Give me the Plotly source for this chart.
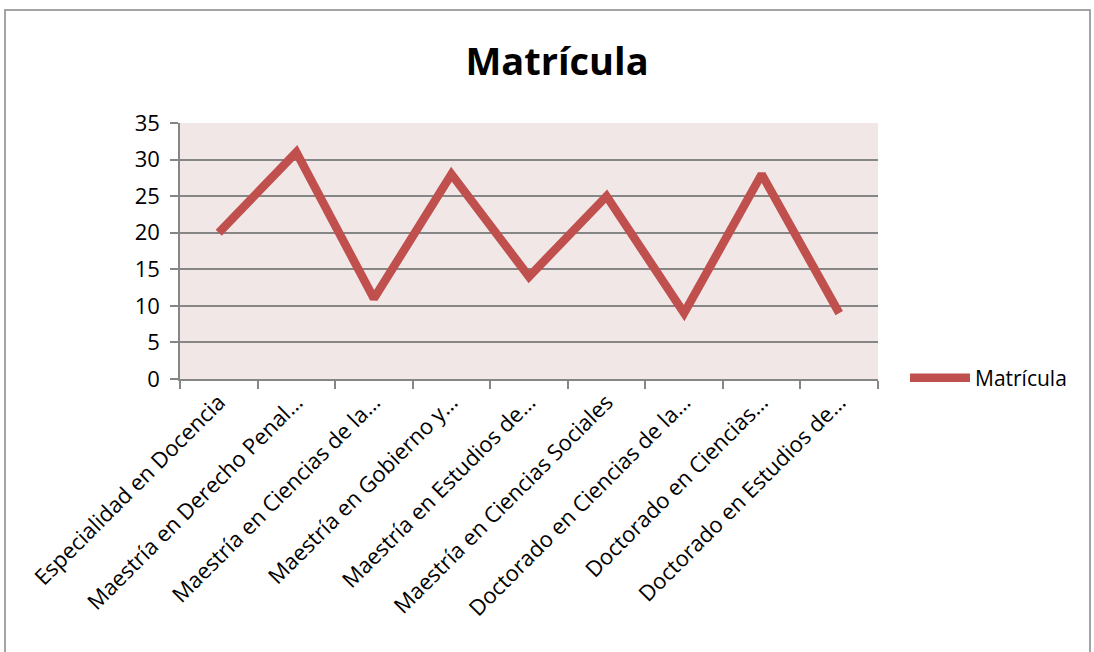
import plotly.graph_objects as go

categories = [
    "Especialidad en Docencia",
    "Maestría en Derecho Penal…",
    "Maestría en Ciencias de la…",
    "Maestría en Gobierno y…",
    "Maestría en Estudios de…",
    "Maestría en Ciencias Sociales",
    "Doctorado en Ciencias de la…",
    "Doctorado en Ciencias…",
    "Doctorado en Estudios de…",
]
matricula = [20, 31, 11, 28, 14, 25, 9, 28, 9]
y_ticks = [0, 5, 10, 15, 20, 25, 30, 35]

W, H = 1094, 652
L, R, T, B = 180, 878, 123, 379
pw, ph = R - L, B - T

def px(x):
    return (x - L) / pw

def py(y):
    return (B - y) / ph

font = "Open Sans, Noto Sans, sans-serif"

fig = go.Figure()
fig.add_trace(go.Scatter(
    x=categories, y=matricula, mode="lines", name="Matrícula",
    line=dict(color="#C0504D", width=8.5),
))

fig.update_layout(
    width=W, height=H,
    margin=dict(l=L, r=W - R, t=T, b=H - B, autoexpand=False),
    paper_bgcolor="white",
    plot_bgcolor="#F2E7E7",
    title=dict(text="<b>Matrícula</b>", xref="container", x=557 / W, xanchor="center",
               yref="container", y=1 - 62 / H, yanchor="middle",
               font=dict(family=font, size=38, color="black")),
    showlegend=True,
    legend=dict(x=px(905), xanchor="left", y=py(378), yanchor="middle",
                font=dict(family=font, size=21, color="black"),
                bgcolor="rgba(0,0,0,0)", itemwidth=60),
    xaxis=dict(
        type="category", range=[-0.5, len(categories) - 0.5],
        tickangle=-45, tickfont=dict(family=font, size=22, color="black"),
        showgrid=False, showline=True, linecolor="#868686", linewidth=1.5,
        ticks="outside", ticklen=8, tickcolor="#868686", tickwidth=1.5,
        tickson="boundaries",
    ),
    yaxis=dict(
        range=[0, 35], tickvals=y_ticks,
        tickfont=dict(family=font, size=22, color="black"),
        showgrid=True, gridcolor="#868686", gridwidth=1.5,
        showline=True, linecolor="#868686", linewidth=1.5,
        ticks="outside", ticklen=8, tickcolor="#868686", tickwidth=1.5,
        ticklabelstandoff=6,
        zeroline=False,
    ),
    shapes=[dict(type="rect", xref="paper", yref="paper",
                 x0=px(5), x1=px(1090), y0=py(700), y1=py(10),
                 line=dict(color="#868686", width=1.5), fillcolor="rgba(0,0,0,0)",
                 layer="below")],
)

fig.write_html("out.html", config={"displayModeBar": False},
               post_script="document.body.style.margin='0';")
